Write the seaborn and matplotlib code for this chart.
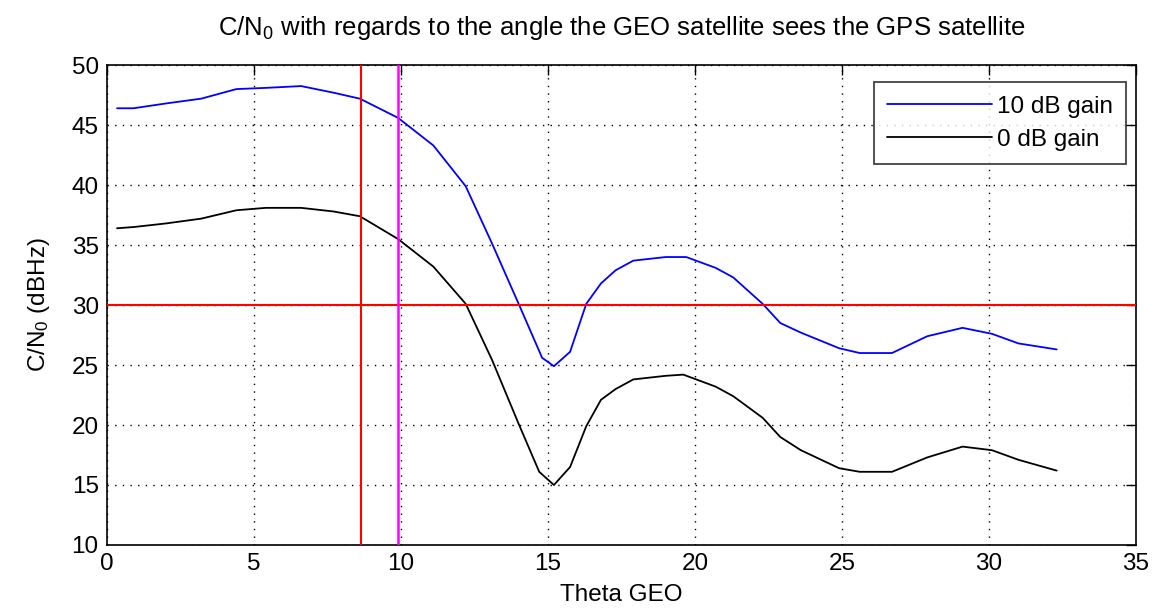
import matplotlib
matplotlib.use("Agg")
import matplotlib.pyplot as plt
import seaborn as sns
import pandas as pd

# Elevation angle seen from the GEO satellite (deg) and resulting C/N0 (dB-Hz)
theta_10db = [0.34, 0.9, 2.0, 3.2, 4.4, 5.4, 6.6, 7.7, 8.6, 9.9, 11.1, 12.2, 13.1,
              14.0, 14.8, 15.2, 15.75, 16.3, 16.8, 17.3, 17.9, 19.0, 19.7, 20.7, 21.3,
              22.3, 22.9, 23.6, 24.9, 25.6, 26.7, 27.9, 29.1, 30.1, 31.0, 32.3]
cn0_10db = [46.4, 46.4, 46.8, 47.2, 48.0, 48.1, 48.25, 47.7, 47.2, 45.6, 43.3, 39.9,
            35.1, 30.1, 25.6, 24.9, 26.1, 30.1, 31.8, 32.9, 33.7, 34.0, 34.0, 33.1, 32.3,
            30.1, 28.5, 27.7, 26.4, 26.0, 26.0, 27.4, 28.1, 27.6, 26.8, 26.3]

theta_0db = [0.34, 0.9, 2.0, 3.2, 4.4, 5.4, 6.6, 7.7, 8.6, 9.9, 11.1, 12.2, 13.1,
             14.0, 14.7, 15.2, 15.75, 16.3, 16.8, 17.3, 17.9, 19.0, 19.6, 20.7, 21.3,
             22.3, 22.9, 23.6, 24.9, 25.6, 26.7, 27.9, 29.1, 30.1, 31.0, 32.3]
cn0_0db = [36.4, 36.5, 36.8, 37.2, 37.9, 38.1, 38.1, 37.8, 37.4, 35.5, 33.2, 30.1,
           25.4, 20.1, 16.1, 15.0, 16.5, 19.9, 22.1, 23.0, 23.8, 24.1, 24.2, 23.2, 22.4,
           20.6, 19.0, 17.9, 16.4, 16.1, 16.1, 17.3, 18.2, 17.9, 17.1, 16.2]

series_labels = ["10 dB gain", "0 dB gain"]
threshold_cn0 = 30
angle_red = 8.64
angle_magenta = 9.9

x_ticks = [0, 5, 10, 15, 20, 25, 30, 35]
y_ticks = [10, 15, 20, 25, 30, 35, 40, 45, 50]

df = pd.concat([
    pd.DataFrame({"theta": theta_10db, "cn0": cn0_10db, "gain": series_labels[0]}),
    pd.DataFrame({"theta": theta_0db, "cn0": cn0_0db, "gain": series_labels[1]}),
])

sns.set_theme(style="white")
plt.rcParams["font.family"] = ["Liberation Sans", "DejaVu Sans"]
plt.rcParams["mathtext.fontset"] = "custom"
plt.rcParams["mathtext.rm"] = "Liberation Sans"
plt.rcParams["mathtext.it"] = "Liberation Sans"
plt.rcParams["text.color"] = "black"
plt.rcParams["axes.labelcolor"] = "black"

fig = plt.figure(figsize=(11.61, 6.14), dpi=100)
ax = fig.add_axes([0.0922, 0.1124, 0.8863, 0.7816])

sns.lineplot(data=df, x="theta", y="cn0", hue="gain", sort=False,
             palette={series_labels[0]: "#0000ff", series_labels[1]: "#000000"},
             linewidth=1.3, ax=ax, legend=True, zorder=3)

ax.axhline(threshold_cn0, color="#ff0000", linewidth=1.5, zorder=4)
ax.axvline(angle_red, color="#ff0000", linewidth=1.5, zorder=4)
ax.axvline(angle_magenta, color="#ff00ff", linewidth=1.8, zorder=4)

ax.set_xlim(0, 35)
ax.set_ylim(10, 50)
ax.set_xticks(x_ticks)
ax.set_yticks(y_ticks)
ax.grid(True, color="black", linestyle=(0, (1, 4.5)), linewidth=1.0)
ax.tick_params(direction="in", length=7, width=1, top=True, right=True,
               labelsize=17.5, colors="black", pad=6)
for s in ax.spines.values():
    s.set_color("black")
    s.set_linewidth(1.2)

ax.set_xlabel("Theta GEO", fontsize=17.5, labelpad=6, color="black")
ax.set_ylabel(r"C/N$_0$ (dBHz)", fontsize=17.5, labelpad=14, color="black")
ax.set_title(r"C/N$_0$ with regards to the angle the GEO satellite sees the GPS satellite",
             fontsize=18.5, pad=22, color="black")

leg = ax.legend(loc="upper right", bbox_to_anchor=(0.9903, 0.964), fontsize=17.5,
                frameon=True, fancybox=False, handlelength=4.3, handletextpad=0.2,
                borderpad=0.55, labelspacing=0.45, borderaxespad=0)
leg.get_frame().set_edgecolor("black")
leg.get_frame().set_linewidth(1.2)
for t in leg.get_texts():
    t.set_color("black")

fig.savefig("out.png", dpi=100, facecolor="white")
